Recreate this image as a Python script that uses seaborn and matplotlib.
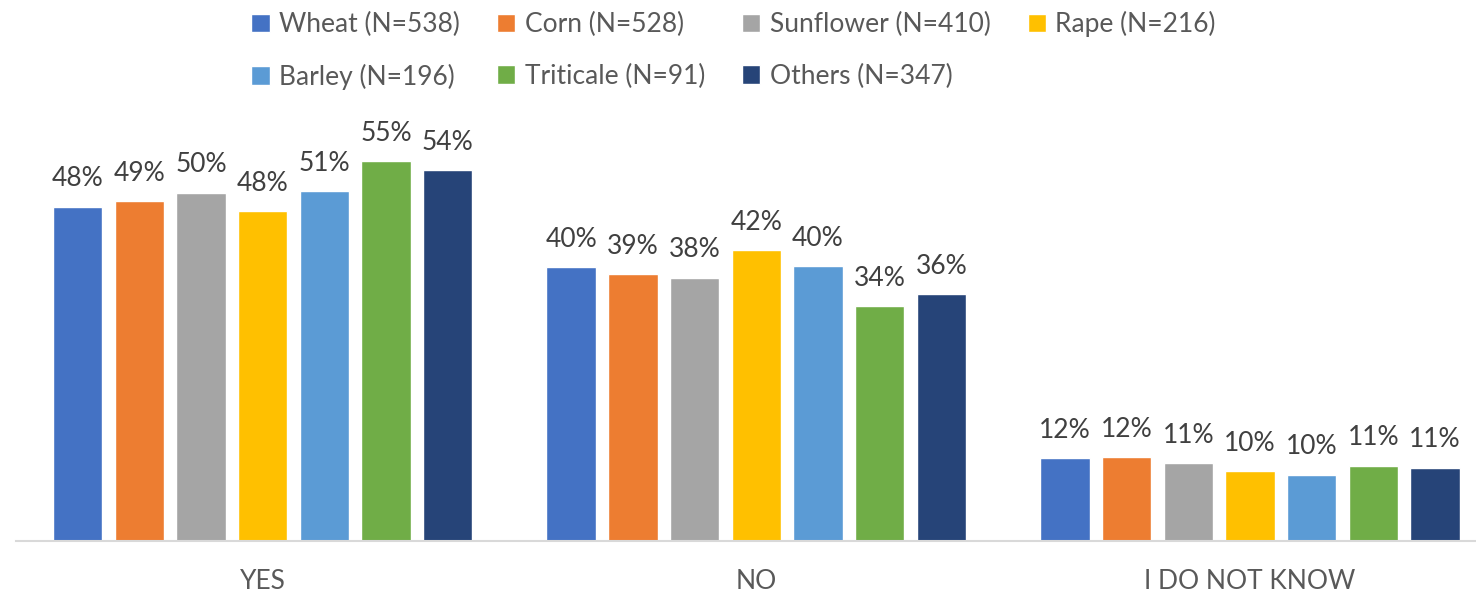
import pandas as pd
import matplotlib
matplotlib.use('Agg')
import matplotlib.pyplot as plt
import seaborn as sns

# answers on the x axis
answers = ['YES', 'NO', 'I DO NOT KNOW']

# crops (legend) with their sample sizes
crops = ['Wheat (N=538)', 'Corn (N=528)', 'Sunflower (N=410)', 'Rape (N=216)',
         'Barley (N=196)', 'Triticale (N=91)', 'Others (N=347)']

# shares in percent (one list per answer)
yes_vals = [48.4, 49.2, 50.4, 47.7, 50.6, 55.0, 53.7]
no_vals = [39.6, 38.6, 38.1, 42.1, 39.8, 34.0, 35.7]
idk_vals = [12.0, 12.1, 11.3, 10.1, 9.6, 10.9, 10.6]

# office-like colours
colors = ['#4472C4', '#ED7D31', '#A5A5A5', '#FFC000', '#5B9BD5', '#70AD47', '#264478']

rows = []
for ans, vals in zip(answers, [yes_vals, no_vals, idk_vals]):
    for crop, v in zip(crops, vals):
        rows.append({'answer': ans, 'crop': crop, 'share': v})
df = pd.DataFrame(rows)

sns.set_theme(style='white')
plt.rcParams['font.family'] = ['Lato', 'DejaVu Sans']

fig = plt.figure(figsize=(14.76, 5.91), dpi=100)
ax = fig.add_axes([0.0107, 0.0846, 1.0034, 0.7015])

sns.barplot(data=df, x='answer', y='share', hue='crop', order=answers, hue_order=crops,
            palette=colors, width=0.875, gap=0.2, saturation=1, ax=ax, legend=True)

# data labels, rounded like in the original
for cont in ax.containers:
    ax.bar_label(cont, labels=['{:.0f}%'.format(b.get_height()) for b in cont],
                 padding=11, fontsize=19, color='#404040')

ax.set_xlim(-0.5, 2.5)
ax.set_ylim(0, 60)
ax.set_xlabel('')
ax.set_ylabel('')
ax.set_yticks([])
ax.tick_params(axis='x', length=0, pad=20, labelsize=19, labelcolor='#595959')
for s in ['top', 'left', 'right']:
    ax.spines[s].set_visible(False)
ax.spines['bottom'].set_color('#D9D9D9')
ax.spines['bottom'].set_linewidth(1.5)

# legend on top, 4 columns, filled row by row like the original
handles, labels = ax.get_legend_handles_labels()
ax.get_legend().remove()
order = [0, 4, 1, 5, 2, 6, 3]
fig.legend([handles[i] for i in order], [labels[i] for i in order],
           loc='upper center', bbox_to_anchor=(0.497, 0.981), ncol=4,
           frameon=False, fontsize=19, labelcolor='#595959', handlelength=0.7,
           handleheight=0.7, handletextpad=0.35, columnspacing=1.4, labelspacing=1.0,
           borderpad=0, borderaxespad=0)

fig.savefig('out.png', dpi=100)
